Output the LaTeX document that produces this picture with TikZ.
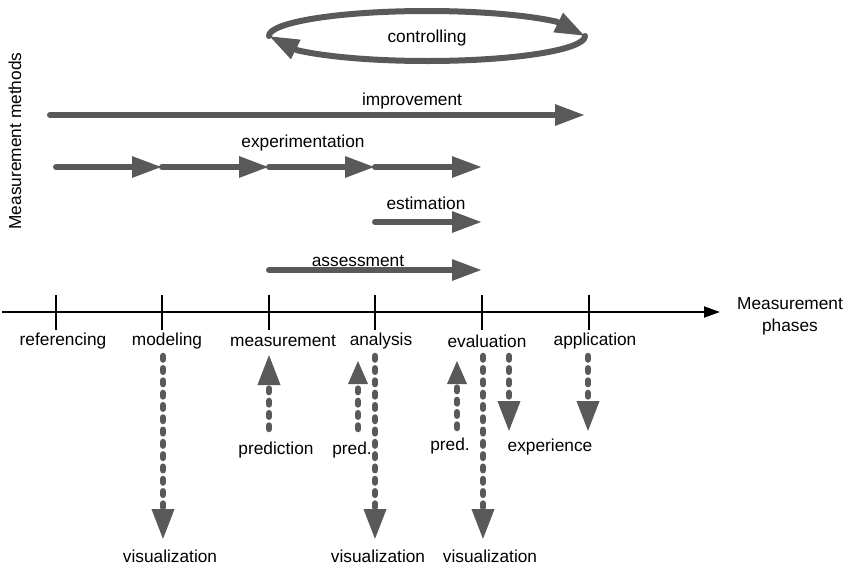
\documentclass[tikz,border=0pt]{standalone}
\usepackage{fontspec}
\setmainfont{Liberation Sans}
\usetikzlibrary{arrows.meta}
\definecolor{arrowgray}{RGB}{89,89,89}
\tikzset{
  lbl/.style={font=\fontsize{17.3}{20}\selectfont, inner sep=0pt, text=black},
  method/.style={draw=arrowgray, line width=6pt, line cap=round,
    -{Triangle[length=30pt,width=20pt]}},
  link/.style={draw=arrowgray, line width=6.5pt, line cap=round,
    dash pattern=on 3.5pt off 8.8pt, -{Triangle[length=31pt,width=21pt]}},
  shorttip/.style={-{Triangle[length=24pt,width=18pt]}},
  axisline/.style={draw=black, line width=2pt, -{Triangle[length=16pt,width=11pt]}},
  phasetick/.style={draw=black, line width=2pt},
}
\begin{document}
\begin{tikzpicture}[x=1pt,y=-1pt]
\useasboundingbox (0,0) rectangle (847,568);

% phase axis
\coordinate (axL) at (2,312);
\coordinate (axR) at (720,312);
\draw[axisline] (axL) -- (axR);
\foreach \n/\x in {1/56,2/162,3/269,4/375,5/482,6/589}{
  \coordinate (p\n) at (\x,312);
  \draw[phasetick] (\x,295) -- (\x,330);
}
\node[lbl, align=center] (phases) at (790,316) {Measurement\\[2pt]phases};

% phase labels
\node[lbl] (referencing) at (63,341) {referencing};
\node[lbl] (modeling) at (167,341) {modeling};
\node[lbl] (measurement) at (283,341) {measurement};
\node[lbl] (analysis) at (381,341) {analysis};
\node[lbl] (evaluation) at (487,341) {evaluation};
\node[lbl] (application) at (595,341) {application};

% method axis label
\node[lbl, rotate=90] (methods) at (15,141) {Measurement methods};

% controlling loop: two half ellipses, each ending in a straight tip piece
\coordinate (ctlL) at (269,36);
\coordinate (ctlR) at (585,36);
\draw[method] (ctlL) arc[start angle=180, end angle=325, x radius=158, y radius=25] -- (ctlR);
\draw[method] (ctlR) arc[start angle=0, end angle=145, x radius=158, y radius=25] -- (ctlL);
\node[lbl] (controlling) at (427,38) {controlling};

% improvement
\coordinate (imA) at (50,115);
\coordinate (imB) at (585,115);
\draw[method] (imA) -- (imB);
\node[lbl] (improvement) at (412,101) {improvement};

% experimentation
\coordinate (ex0) at (56,167);
\coordinate (ex1) at (162,167);
\coordinate (ex2) at (269,167);
\coordinate (ex3) at (375,167);
\coordinate (ex4) at (482,167);
\draw[method] (ex0) -- (ex1);
\draw[method] (ex1) -- (ex2);
\draw[method] (ex2) -- (ex3);
\draw[method] (ex3) -- (ex4);
\node[lbl] (experimentation) at (303,143) {experimentation};

% estimation
\coordinate (esA) at (375,222);
\coordinate (esB) at (482,222);
\draw[method] (esA) -- (esB);
\node[lbl] (estimation) at (426,203) {estimation};

% assessment
\coordinate (asA) at (269,270);
\coordinate (asB) at (482,270);
\draw[method] (asA) -- (asB);
\node[lbl] (assessment) at (358,261) {assessment};

% results below the phases
\node[lbl] (vis1) at (170,556) {visualization};
\node[lbl] (vis2) at (378,556) {visualization};
\node[lbl] (vis3) at (490,556) {visualization};
\node[lbl] (prediction) at (276,450) {prediction};
\node[lbl] (pred1) at (352,450) {pred.};
\node[lbl] (pred2) at (450,446) {pred.};
\node[lbl] (experience) at (550,447) {experience};

\coordinate (m1) at (163,356);  \coordinate (m2) at (163,540);
\draw[link] (m1) -- (m2);

\coordinate (q1) at (269,429);  \coordinate (q2) at (269,354);
\draw[link] (q1) -- (q2);

\coordinate (r1) at (358,429);  \coordinate (r2) at (358,360);
\draw[link, shorttip] (r1) -- (r2);

\coordinate (a1) at (375,356);  \coordinate (a2) at (375,540);
\draw[link] (a1) -- (a2);

\coordinate (s1) at (457,428);  \coordinate (s2) at (457,360);
\draw[link, shorttip] (s1) -- (s2);

\coordinate (v1) at (483,356);  \coordinate (v2) at (483,540);
\draw[link] (v1) -- (v2);

\coordinate (x1) at (509,356);  \coordinate (x2) at (509,432);
\draw[link] (x1) -- (x2);

\coordinate (y1) at (588,356);  \coordinate (y2) at (588,432);
\draw[link] (y1) -- (y2);
\end{tikzpicture}
\end{document}
